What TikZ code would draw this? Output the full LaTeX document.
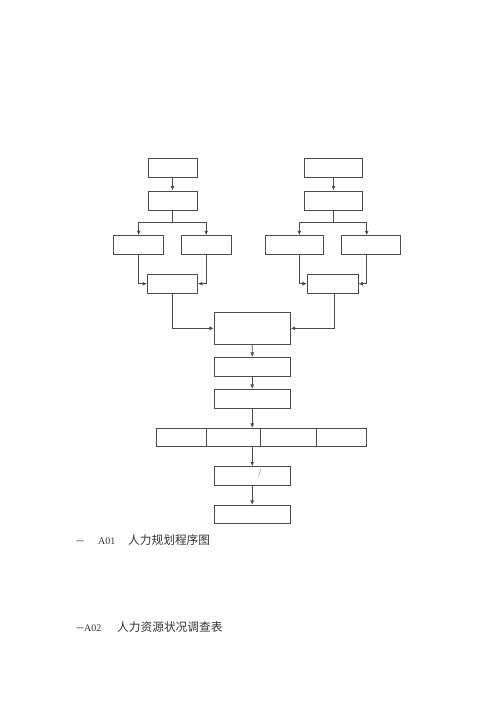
\documentclass[tikz,border=0pt]{standalone}
\usepackage{fontspec}
\setmainfont{Liberation Serif}
\newfontfamily\cjk{Noto Sans CJK SC}
\usetikzlibrary{arrows.meta}
\begin{document}
\begin{tikzpicture}
            [x=1pt, y=-1pt,
             myBox/.style={rectangle,
                        draw=black!70,
                        line width=0.8pt,
                        inner sep=0pt},
             myArrow/.style={draw=black!70, line width=0.8pt, -{Latex[length=4.5pt,width=4pt]}},
             myLine/.style={draw=black!70, line width=0.8pt},
             myCaption/.style={anchor=west, inner sep=0pt, text=black!80}]

            \useasboundingbox (0,0) rectangle (500,707);

            % left branch
            \node[myBox, minimum width=49pt, minimum height=19pt] (leftTop) at (172.5,167.8) {};
            \node[myBox, minimum width=49pt, minimum height=19pt] (leftSecond) at (172.5,200.4) {};
            \node[myBox, minimum width=50pt, minimum height=18.6pt] (leftA) at (138.7,245) {};
            \node[myBox, minimum width=50pt, minimum height=18.6pt] (leftB) at (206.2,245) {};
            \node[myBox, minimum width=50pt, minimum height=18.7pt] (leftMerge) at (172.5,283.7) {};

            % right branch
            \node[myBox, minimum width=58.4pt, minimum height=19pt] (rightTop) at (333.5,167.8) {};
            \node[myBox, minimum width=58.4pt, minimum height=19pt] (rightSecond) at (333.5,200.4) {};
            \node[myBox, minimum width=58pt, minimum height=18.6pt] (rightA) at (294.7,245) {};
            \node[myBox, minimum width=59pt, minimum height=18.6pt] (rightB) at (370.5,245) {};
            \node[myBox, minimum width=50.7pt, minimum height=18.7pt] (rightMerge) at (332.7,283.7) {};

            % centre column
            \node[myBox, minimum width=76pt, minimum height=32pt] (centreJoin) at (252.3,328.3) {};
            \node[myBox, minimum width=75.7pt, minimum height=18.7pt] (centreSecond) at (252.2,366.7) {};
            \node[myBox, minimum width=75.7pt, minimum height=19pt] (centreThird) at (252.2,398.8) {};
            \node[myBox, minimum width=50.7pt, minimum height=18.4pt] (rowA) at (181.35,437.5) {};
            \node[myBox, minimum width=53.8pt, minimum height=18.4pt] (rowB) at (233.6,437.5) {};
            \node[myBox, minimum width=55.5pt, minimum height=18.4pt] (rowC) at (288.25,437.5) {};
            \node[myBox, minimum width=50.5pt, minimum height=18.4pt] (rowD) at (341.25,437.5) {};
            \node[myBox, minimum width=75.7pt, minimum height=19pt] (centreFifth) at (252.2,476.2) {};
            \node[myBox, minimum width=75.7pt, minimum height=18.4pt] (centreLast) at (252.2,514.5) {};
            \node[text=black!55, font=\cjk\fontsize{8}{10}\selectfont, inner sep=0pt] (slash) at (260,473) {/};

            \coordinate (leftSplit) at (172.5,222.3);
            \coordinate (rightSplit) at (333.5,222.3);

            \draw [myArrow] (leftTop) to (leftSecond);
            \draw [myLine] (leftSecond) to (leftSplit);
            \draw [myArrow] (leftSplit) -| (leftA);
            \draw [myArrow] (leftSplit) -| (leftB);
            \draw [myArrow] (leftA) |- (leftMerge);
            \draw [myArrow] (leftB) |- (leftMerge);

            \draw [myArrow] (rightTop) to (rightSecond);
            \draw [myLine] (rightSecond) to (rightSplit);
            \draw [myArrow] (rightSplit) -| ([xshift=4.6pt]rightA.north);
            \draw [myArrow] (rightSplit) -| ([xshift=-3.8pt]rightB.north);
            \draw [myArrow] ([xshift=4.6pt]rightA.south) |- (rightMerge);
            \draw [myArrow] ([xshift=-3.8pt]rightB.south) |- (rightMerge);

            \draw [myArrow] (leftMerge) |- (centreJoin);
            \draw [myArrow] ([xshift=1.3pt]rightMerge.south) |- (centreJoin);
            \draw [myArrow] (centreJoin) to (centreSecond);
            \draw [myArrow] (centreSecond) to (centreThird);
            \draw [myArrow] (centreThird) to (centreThird.south |- rowB.north);
            \draw [myArrow] (centreFifth.north |- rowB.south) to (centreFifth);
            \draw [myArrow] (centreFifth) to (centreLast);

            % captions
            \node[myCaption] (captionOne) at (76,540) {\makebox[22pt][l]{\cjk\fontsize{8}{10}\selectfont 一}\makebox[30pt][l]{\fontsize{10}{12}\selectfont A01}{\cjk\fontsize{11.7}{14}\selectfont 人力规划程序图}};
            \node[myCaption] (captionTwo) at (76,627) {\makebox[8pt][l]{\cjk\fontsize{8}{10}\selectfont 一}\makebox[33pt][l]{\fontsize{10}{12}\selectfont A02}{\cjk\fontsize{11.7}{14}\selectfont 人力资源状况调查表}};
        \end{tikzpicture}
\end{document}
